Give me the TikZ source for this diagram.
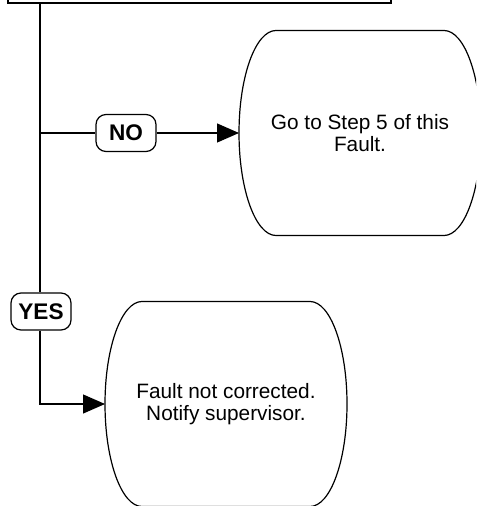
\documentclass[tikz,border=0pt]{standalone}
\usepackage{fontspec}
\setmainfont{Liberation Sans}
\usetikzlibrary{arrows.meta}

\begin{document}
\begin{tikzpicture}[x=.5pt,y=-.5pt,line width=.6pt,
  flow/.style={-{Triangle[length=11pt,width=9.5pt]}},
  answer/.style={draw,rounded corners=5pt,minimum width=30pt,minimum height=18.5pt,inner sep=0pt,font=\fontsize{11.3}{13}\selectfont\bfseries},
  endbox/.style={minimum width=121pt,minimum height=102.5pt,inner sep=0pt,outer sep=0pt,align=center,font=\fontsize{10.4}{11.3}\selectfont}]
\useasboundingbox (0,0) rectangle (476,506);
\clip (0,0) rectangle (476,506);
\node[draw,minimum width=191.5pt,minimum height=30pt] (check) at (199.5,-27) {};
\coordinate (split) at (40,133);
\node[answer] (no) at (126,133) {NO};
\node[answer] (yes) at (41,311.5) {YES};
\node[endbox] (goto) at (360,133) {Go to Step 5 of this\\Fault.};
\node[endbox] (notify) at (226,404) {Fault not corrected.\\Notify supervisor.};
% outlines of the end boxes
\foreach \n in {goto,notify}
  \draw ([xshift=18.5pt]\n.north west) -- ([xshift=-18.5pt]\n.north east)
    arc[start angle=90,end angle=-90,x radius=18.5pt,y radius=51.25pt]
    -- ([xshift=18.5pt]\n.south west)
    arc[start angle=270,end angle=90,x radius=18.5pt,y radius=51.25pt] -- cycle;
\draw (check.south -| split) -- (split) -- (yes.north -| split);
\draw (split) -- (no);
\draw[flow] (no) -- (goto);
\draw[flow] (yes.south -| split) |- (notify);
\end{tikzpicture}
\end{document}
